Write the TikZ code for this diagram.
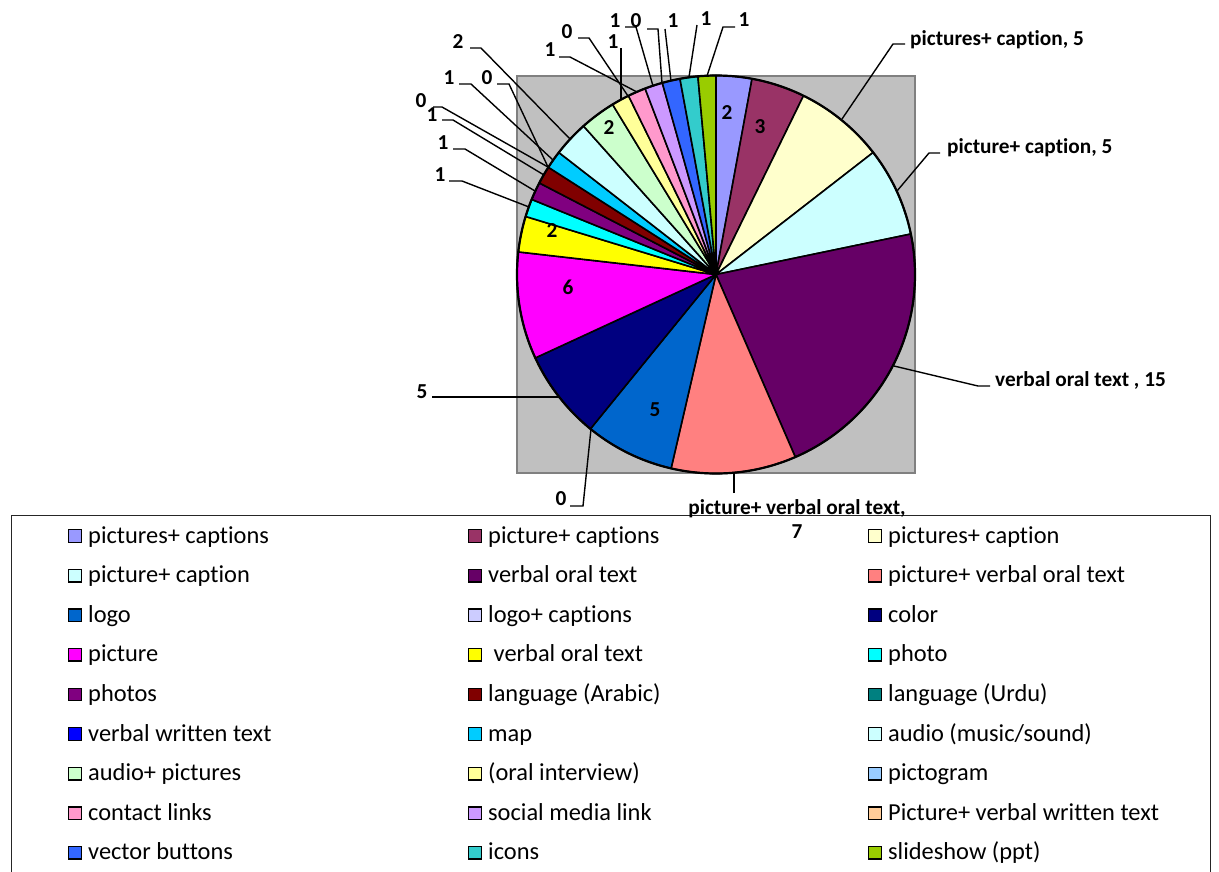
\documentclass[tikz,border=0pt]{standalone}
\usepackage{fontspec}
\setmainfont{Carlito}[Ligatures=NoCommon]
\definecolor{plotgray}{HTML}{C0C0C0}
\definecolor{plotedge}{HTML}{808080}
\definecolor{s1}{HTML}{9999FF}
\definecolor{s2}{HTML}{993366}
\definecolor{s3}{HTML}{FFFFCC}
\definecolor{s4}{HTML}{CCFFFF}
\definecolor{s5}{HTML}{660066}
\definecolor{s6}{HTML}{FF8080}
\definecolor{s7}{HTML}{0066CC}
\definecolor{s8}{HTML}{CCCCFF}
\definecolor{s9}{HTML}{000080}
\definecolor{s10}{HTML}{FF00FF}
\definecolor{s11}{HTML}{FFFF00}
\definecolor{s12}{HTML}{00FFFF}
\definecolor{s13}{HTML}{800080}
\definecolor{s14}{HTML}{800000}
\definecolor{s15}{HTML}{008080}
\definecolor{s16}{HTML}{0000FF}
\definecolor{s17}{HTML}{00CCFF}
\definecolor{s18}{HTML}{CCFFFF}
\definecolor{s19}{HTML}{CCFFCC}
\definecolor{s20}{HTML}{FFFF99}
\definecolor{s21}{HTML}{99CCFF}
\definecolor{s22}{HTML}{FF99CC}
\definecolor{s23}{HTML}{CC99FF}
\definecolor{s24}{HTML}{FFCC99}
\definecolor{s25}{HTML}{3366FF}
\definecolor{s26}{HTML}{33CCCC}
\definecolor{s27}{HTML}{99CC00}
\begin{document}
\begin{tikzpicture}[x=1pt,y=1pt,
  lbl/.style={font=\bfseries\fontsize{21.3}{24}\selectfont, inner sep=0pt},
  lblw/.style={lbl, anchor=base west},
  leader/.style={draw=black, line width=1.4pt},
  wedge/.style={draw=black, line width=1.6pt, line join=round},
  legtext/.style={font=\fontsize{24.4}{28}\selectfont, inner sep=0pt, anchor=base west},
  swatch/.style={draw=black, line width=1.3pt, minimum size=12.5pt, inner sep=0pt}]
\useasboundingbox (0,0) rectangle (1219,-871);
\fill[white] (0,0) rectangle (1219,-871);

% plot area
\draw[fill=plotgray, draw=plotedge, line width=2pt] (517,-76) rectangle (915,-473);

% pie: 69 units in total, clockwise from twelve o'clock
\coordinate (C) at (716,-274.5);
\def\R{199}
\foreach \s/\e/\c in {0/2/s1, 2/5/s2, 5/10/s3, 10/15/s4, 15/30/s5, 30/37/s6,
  37/42/s7, 42/47/s9, 47/53/s10, 53/55/s11, 55/56/s12, 56/57/s13, 57/58/s14,
  58/59/s17, 59/61/s18, 61/63/s19, 63/64/s20, 64/65/s22, 65/66/s23,
  66/67/s25, 67/68/s26, 68/69/s27}{
  \pgfmathsetmacro\aS{90-\s/69*360}
  \pgfmathsetmacro\aE{90-\e/69*360}
  \filldraw[wedge, fill=\c] (C) -- ++(\aS:\R pt)
    arc[start angle=\aS, end angle=\aE, radius=\R pt] -- cycle;
}
\draw[line width=2.2pt] (C) circle[radius=\R pt];

% legend frame
\draw[line width=1pt, draw=black!85] (11,-515) rectangle (1210,-890);

% legend entries, three per row
\foreach \t/\c [count=\i from 0] in {
  {pictures+ captions}/s1, {picture+ captions}/s2, {pictures+ caption}/s3,
  {picture+ caption}/s4, {verbal oral text}/s5, {picture+ verbal oral text}/s6,
  {logo}/s7, {logo+ captions}/s8, {color}/s9,
  {picture}/s10, {\ verbal oral text}/s11, {photo}/s12,
  {photos}/s13, {language (Arabic)}/s14, {language (Urdu)}/s15,
  {verbal written text}/s16, {map}/s17, {audio (music/sound)}/s18,
  {audio+ pictures}/s19, {(oral interview)}/s20, {pictogram}/s21,
  {contact links}/s22, {social media link}/s23, {Picture+ verbal written text}/s24,
  {vector buttons}/s25, {icons}/s26, {slideshow (ppt)}/s27}{
  \pgfmathtruncatemacro\row{int(\i/3)}
  \pgfmathtruncatemacro\col{mod(\i,3)}
  \node[swatch, fill=\c] (sw\i) at ({75+400*\col},{-(536+39.6*\row)}) {};
  \node[legtext] (leg\i) at ({88+400*\col},{-(543+39.6*\row)}) {\t};
}

% values printed inside the wedges
\node[lbl] (in1) at (727,-113) {2};
\node[lbl] (in2) at (760,-127) {3};
\node[lbl] (in19) at (609,-128) {2};
\node[lbl] (in11) at (552,-231) {2};
\node[lbl] (in10) at (568,-287) {6};
\node[lbl] (in7) at (655,-410) {5};

% labels with leader lines, right side
\node[lblw] (t3) at (910,-45) {pictures+ caption, 5};
\coordinate (a3) at (893,-44); \coordinate (b3) at (905,-44); \coordinate (p3) at (842,-119);
\draw[leader] (b3) -- (a3) -- (p3);

\node[lblw] (t4) at (947,-153) {picture+ caption, 5};
\coordinate (a4) at (929,-153); \coordinate (b4) at (940,-153); \coordinate (p4) at (897,-191);
\draw[leader] (b4) -- (a4) -- (p4);

\node[lblw] (t5) at (995,-386.5) {verbal oral text , 15};
\coordinate (a5) at (978,-386); \coordinate (b5) at (990,-386); \coordinate (p5) at (894,-366);
\draw[leader] (b5) -- (a5) -- (p5);

\node[lbl, align=center, anchor=north] (t6) at (797,-499) {picture+ verbal oral text,\\7};
\coordinate (a6) at (734,-493); \coordinate (p6) at (734,-473);
\draw[leader] (a6) -- (p6);

% lower left
\node[lbl] (t8) at (561,-499) {0};
\coordinate (a8) at (570,-506); \coordinate (b8) at (583,-506); \coordinate (p8) at (591,-429);
\draw[leader] (a8) -- (b8) -- (p8);

\node[lbl] (t9) at (422,-392) {5};
\coordinate (a9) at (432,-397); \coordinate (p9) at (559,-397);
\draw[leader] (a9) -- (p9);

% upper left
\node[lbl] (t12) at (440,-175) {1};
\coordinate (a12) at (449,-181); \coordinate (b12) at (462,-181); \coordinate (p12) at (529,-207);
\draw[leader] (a12) -- (b12) -- (p12);

\node[lbl] (t13) at (443,-143) {1};
\coordinate (a13) at (453,-149); \coordinate (b13) at (465,-149); \coordinate (p13) at (535,-191);
\draw[leader] (a13) -- (b13) -- (p13);

\node[lbl] (t14) at (432,-115) {1};
\coordinate (a14) at (442,-120); \coordinate (b14) at (453,-120); \coordinate (p14) at (544,-175);
\draw[leader] (a14) -- (b14) -- (p14);

\node[lbl] (t15) at (421,-101) {0};
\coordinate (a15) at (433,-107); \coordinate (b15) at (442,-107); \coordinate (p15) at (548,-167);
\draw[leader] (a15) -- (b15) -- (p15);

\node[lbl] (t16) at (487,-78) {0};
\coordinate (a16) at (497,-84); \coordinate (b16) at (509,-84);
\draw[leader] (a16) -- (b16) -- (p15);

\node[lbl] (t17) at (449,-78) {1};
\coordinate (a17) at (459,-84); \coordinate (b17) at (471,-84); \coordinate (p17) at (553,-160);
\draw[leader] (a17) -- (b17) -- (p17);

\node[lbl] (t18) at (458,-42) {2};
\coordinate (a18) at (470,-48); \coordinate (b18) at (481,-48); \coordinate (p18) at (570,-139);
\draw[leader] (a18) -- (b18) -- (p18);

% top
\node[lbl] (t20) at (613,-42) {1};
\coordinate (a20) at (621,-48); \coordinate (p20) at (621,-99);
\draw[leader] (a20) -- (p20);

\node[lbl] (t22) at (550,-50) {1};
\coordinate (a22) at (559,-57); \coordinate (b22) at (570,-57); \coordinate (p22) at (637,-92);
\draw[leader] (a22) -- (b22) -- (p22);

\node[lbl] (t21) at (567,-32) {0};
\coordinate (a21) at (578,-38); \coordinate (b21) at (589,-38); \coordinate (p21) at (628,-96);
\draw[leader] (a21) -- (b21) -- (p21);

\node[lbl] (t23) at (615,-21) {1};
\coordinate (a23) at (625,-27); \coordinate (b23) at (636,-27); \coordinate (p23) at (653,-86);
\draw[leader] (a23) -- (b23) -- (p23);

\node[lbl] (t24) at (636,-21) {0};
\coordinate (a24) at (647,-29); \coordinate (b24) at (658,-29); \coordinate (p24) at (662,-83);
\draw[leader] (a24) -- (b24) -- (p24);

\node[lbl] (t25) at (673,-21) {1};
\coordinate (a25) at (665,-29); \coordinate (p25) at (671,-81);
\draw[leader] (a25) -- (p25);

\node[lbl] (t26) at (706,-19) {1};
\coordinate (a26) at (697,-25); \coordinate (p26) at (689,-77);
\draw[leader] (a26) -- (p26);

\node[lbl] (t27) at (744,-20) {1};
\coordinate (a27) at (735,-27); \coordinate (b27) at (723,-27); \coordinate (p27) at (707,-76);
\draw[leader] (a27) -- (b27) -- (p27);
\end{tikzpicture}
\end{document}
